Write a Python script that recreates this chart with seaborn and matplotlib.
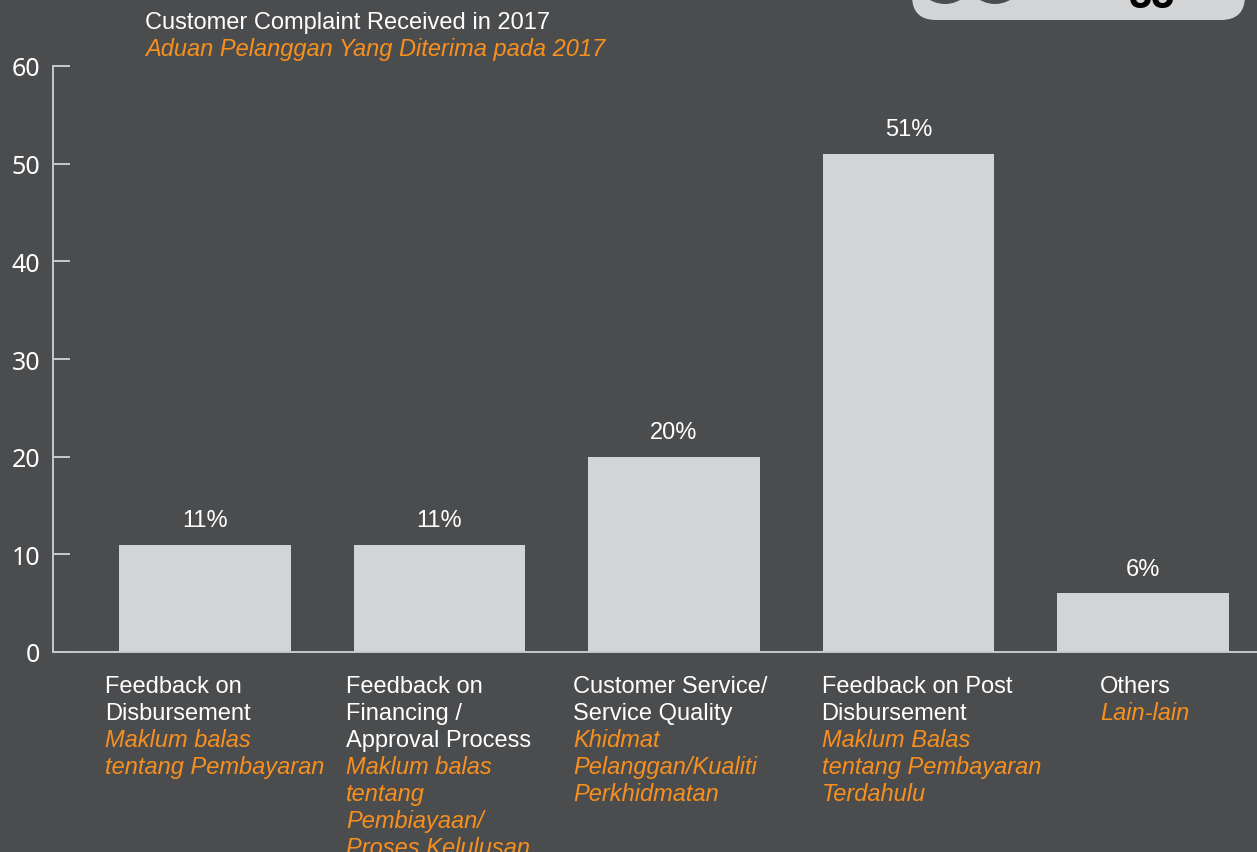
import matplotlib
matplotlib.use("Agg")
import matplotlib.pyplot as plt
import seaborn as sns
from matplotlib.patches import FancyBboxPatch, Circle

# data
categories = ["Disbursement", "Financing", "Service", "Post Disbursement", "Others"]
percent = [11, 11, 20, 51, 6]
eng_labels = [
    ["Feedback on", "Disbursement"],
    ["Feedback on", "Financing /", "Approval Process"],
    ["Customer Service/", "Service Quality"],
    ["Feedback on Post", "Disbursement"],
    ["Others"],
]
malay_labels = [
    ["Maklum balas", "tentang Pembayaran"],
    ["Maklum balas", "tentang", "Pembiayaan/", "Proses Kelulusan"],
    ["Khidmat", "Pelanggan/Kualiti", "Perkhidmatan"],
    ["Maklum Balas", "tentang Pembayaran", "Terdahulu"],
    ["Lain-lain"],
]
title_en = "Customer Complaint Received in 2017"
title_my = "Aduan Pelanggan Yang Diterima pada 2017"
yticks = [0, 10, 20, 30, 40, 50, 60]

bg = "#4b4c4e"
bar_col = "#d3d4d6"
orange = "#f7901e"
axis_col = "#c8c9cb"
font = "Liberation Sans"

sns.set_style("dark")
plt.rcParams["font.family"] = [font, "DejaVu Sans"]

fig = plt.figure(figsize=(12.57, 8.53), dpi=100, facecolor=bg)
ax = fig.add_axes([53 / 1257, 200 / 853, 1204 / 1257, 586 / 853])
ax.set_facecolor(bg)

sns.barplot(x=categories, y=percent, color=bar_col, saturation=1, width=0.733,
            linewidth=0, edgecolor="none", ax=ax)
ax.set_xlim(-0.648, 4.486)
ax.set_ylim(0, 60)
ax.set_yticks(yticks)
ax.set_xticks([])
ax.set_xlabel("")
ax.set_ylabel("")
ax.grid(False)
for s in ["top", "right"]:
    ax.spines[s].set_visible(False)
for s in ["left", "bottom"]:
    ax.spines[s].set_visible(True)
    ax.spines[s].set_color(axis_col)
    ax.spines[s].set_linewidth(1.4)
ax.tick_params(axis="y", direction="in", length=12, width=1.4, color=axis_col,
               labelcolor="white", labelsize=18, pad=9, left=True)
for t in ax.get_yticklabels():
    t.set_family("Noto Sans")

ax.bar_label(ax.containers[0], labels=[f"{v}%" for v in percent], padding=10,
             color="white", fontsize=17)

# category labels under the bars
x_shift = [-0.426, -0.397, -0.431, -0.371, -0.183]
xt = ax.get_xaxis_transform()
for i, (eng, my) in enumerate(zip(eng_labels, malay_labels)):
    lines = [(l, "white", "normal") for l in eng] + [(l, orange, "italic") for l in my]
    for k, (txt, col, sty) in enumerate(lines):
        ax.annotate(txt, xy=(i + x_shift[i], 0), xycoords=xt,
                    xytext=(0, -(28.8 + k * 19.44)), textcoords="offset points",
                    ha="left", va="baseline", fontsize=17, color=col, style=sty,
                    annotation_clip=False)

fig.text(145 / 1257, 1 - 29 / 853, title_en, color="white", fontsize=17, va="baseline")
fig.text(145 / 1257, 1 - 56 / 853, title_my, color=orange, fontsize=17,
         style="italic", va="baseline")

# cropped badge in the top right corner
fig.add_artist(FancyBboxPatch((912, 853 - 21), 333, 120, boxstyle="round,pad=0,rounding_size=24",
                              transform=None, facecolor=bar_col, edgecolor="none"))
fig.add_artist(Circle((945, 878), 30, transform=None, facecolor=bg, edgecolor="none"))
fig.add_artist(Circle((995, 878), 30, transform=None, facecolor=bg, edgecolor="none"))
fig.text(1152 / 1257, 1 - 8 / 853, "55", ha="center", va="baseline", fontsize=30,
         weight="bold", color="black")

fig.savefig("out.png", dpi=100, facecolor=bg)
